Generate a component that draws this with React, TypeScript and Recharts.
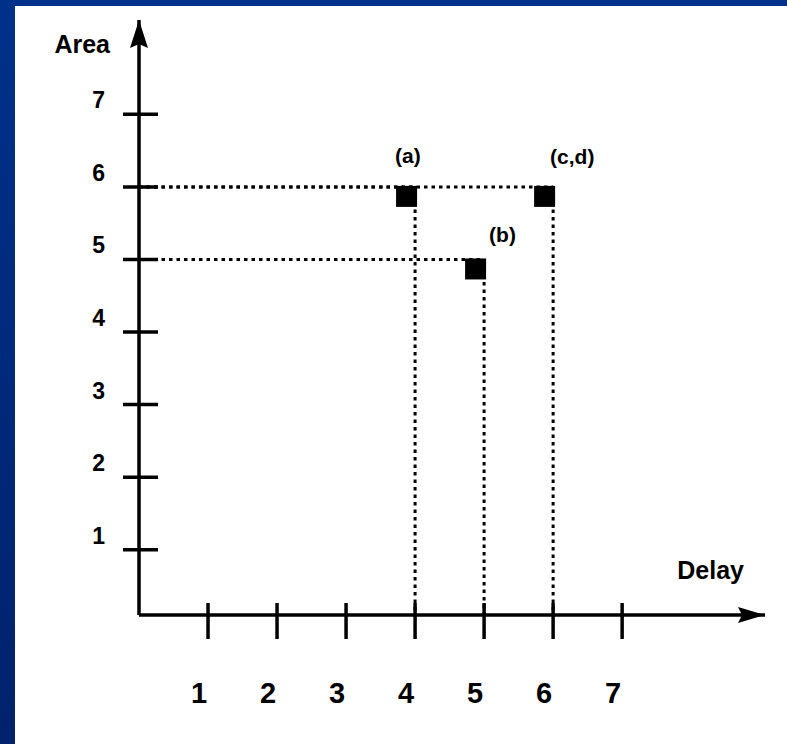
import { ScatterChart, Scatter, XAxis, YAxis, ReferenceLine, ReferenceDot } from 'recharts';

const designs = ['(a)', '(b)', '(c,d)'];
const delayValues = [4, 5, 6];
const areaValues = [6, 5, 6];
const delayTicks = [1, 2, 3, 4, 5, 6, 7];
const areaTicks = [1, 2, 3, 4, 5, 6, 7];

const X_MAX = 9.07;
const Y_MIN = 0.1;
const Y_MAX = 8.3;

const points = designs.map((name, i) => ({ name, delay: delayValues[i], area: areaValues[i] }));

const FONT = '"Liberation Sans", Arial, sans-serif';
const INK = '#000';

// where each design's label sits relative to its point
const labelOffset: Record<string, [number, number]> = {
  '(a)': [-20, -24],
  '(b)': [5, -17],
  '(c,d)': [-3, -23],
};

function AreaTick(props: any) {
  const { x, y, payload } = props;
  return (
    <g>
      <line x1={x - 16} x2={x + 19} y1={y} y2={y} stroke={INK} strokeWidth={3.5} />
      <text x={x - 34} y={y - 6} textAnchor="end" fontSize={23} fontWeight="bold" fontFamily={FONT} fill={INK}>
        {payload.value}
      </text>
    </g>
  );
}

function DelayTick(props: any) {
  const { x, y, payload } = props;
  return (
    <g>
      <line x1={x} x2={x} y1={y - 12} y2={y + 24} stroke={INK} strokeWidth={3.5} />
      <text x={x - 9} y={y + 88} textAnchor="middle" fontSize={29} fontWeight="bold" fontFamily={FONT} fill={INK}>
        {payload.value}
      </text>
    </g>
  );
}

function DesignPoint(props: any) {
  const { cx, cy, payload } = props;
  const [dx, dy] = labelOffset[payload.name] ?? [0, -20];
  return (
    <g>
      <rect x={cx - 19} y={cy - 1} width={21} height={21} fill={INK} />
      <text x={cx + dx} y={cy + dy} fontSize={21} fontWeight="bold" fontFamily={FONT} fill={INK}>
        {payload.name}
      </text>
    </g>
  );
}

function ArrowRight(props: any) {
  const { cx, cy } = props;
  return <path d={`M${cx},${cy} L${cx - 27},${cy - 8} L${cx - 23},${cy} L${cx - 27},${cy + 8} Z`} fill={INK} />;
}

function ArrowUp(props: any) {
  const { cx, cy } = props;
  return <path d={`M${cx},${cy} L${cx - 9},${cy + 28} L${cx},${cy + 24} L${cx + 9},${cy + 28} Z`} fill={INK} />;
}

const dotted = { stroke: INK, strokeWidth: 3, strokeDasharray: '3.5 4' };

export default function App() {
  return (
    <div
      style={{
        position: 'absolute',
        left: 0,
        top: 0,
        width: 787,
        height: 744,
        background: 'linear-gradient(180deg, #00318a 0%, #00226c 100%)',
      }}
    >
      <div style={{ position: 'absolute', left: 15, top: 6, right: 0, bottom: 0, background: '#fff' }} />
      <div style={{ position: 'absolute', left: 0, top: 0 }}>
        <ScatterChart width={787} height={744} margin={{ top: 20, right: 22, bottom: 69, left: 79 }}>
          <XAxis
            type="number"
            dataKey="delay"
            domain={[0, X_MAX]}
            ticks={delayTicks}
            interval={0}
            height={60}
            tickSize={0}
            tickMargin={0}
            tick={<DelayTick />}
            axisLine={{ stroke: INK, strokeWidth: 3.5 }}
            tickLine={false}
            allowDataOverflow
            label={{
              content: (p: any) => (
                <text
                  x={p.viewBox.x + p.viewBox.width - 21}
                  y={p.viewBox.y - 36}
                  textAnchor="end"
                  fontSize={25}
                  fontWeight="bold"
                  fontFamily={FONT}
                  fill={INK}
                >
                  Delay
                </text>
              ),
            }}
          />
          <YAxis
            type="number"
            dataKey="area"
            domain={[Y_MIN, Y_MAX]}
            ticks={areaTicks}
            interval={0}
            width={60}
            tickSize={0}
            tickMargin={0}
            tick={<AreaTick />}
            axisLine={{ stroke: INK, strokeWidth: 3.5 }}
            tickLine={false}
            allowDataOverflow
            label={{
              content: (p: any) => (
                <text
                  x={p.viewBox.x + p.viewBox.width - 29}
                  y={p.viewBox.y + 33}
                  textAnchor="end"
                  fontSize={25}
                  fontWeight="bold"
                  fontFamily={FONT}
                  fill={INK}
                >
                  Area
                </text>
              ),
            }}
          />
          {points.map((p) => (
            <ReferenceLine
              key={'h' + p.name}
              segment={[{ x: 0, y: p.area }, { x: p.delay, y: p.area }]}
              {...dotted}
            />
          ))}
          {points.map((p) => (
            <ReferenceLine
              key={'v' + p.name}
              segment={[{ x: p.delay, y: p.area }, { x: p.delay, y: Y_MIN }]}
              {...dotted}
            />
          ))}
          <ReferenceDot x={X_MAX} y={Y_MIN} r={0} shape={<ArrowRight />} ifOverflow="visible" />
          <ReferenceDot x={0} y={Y_MAX} r={0} shape={<ArrowUp />} ifOverflow="visible" />
          <Scatter data={points} shape={<DesignPoint />} isAnimationActive={false} />
        </ScatterChart>
      </div>
    </div>
  );
}
